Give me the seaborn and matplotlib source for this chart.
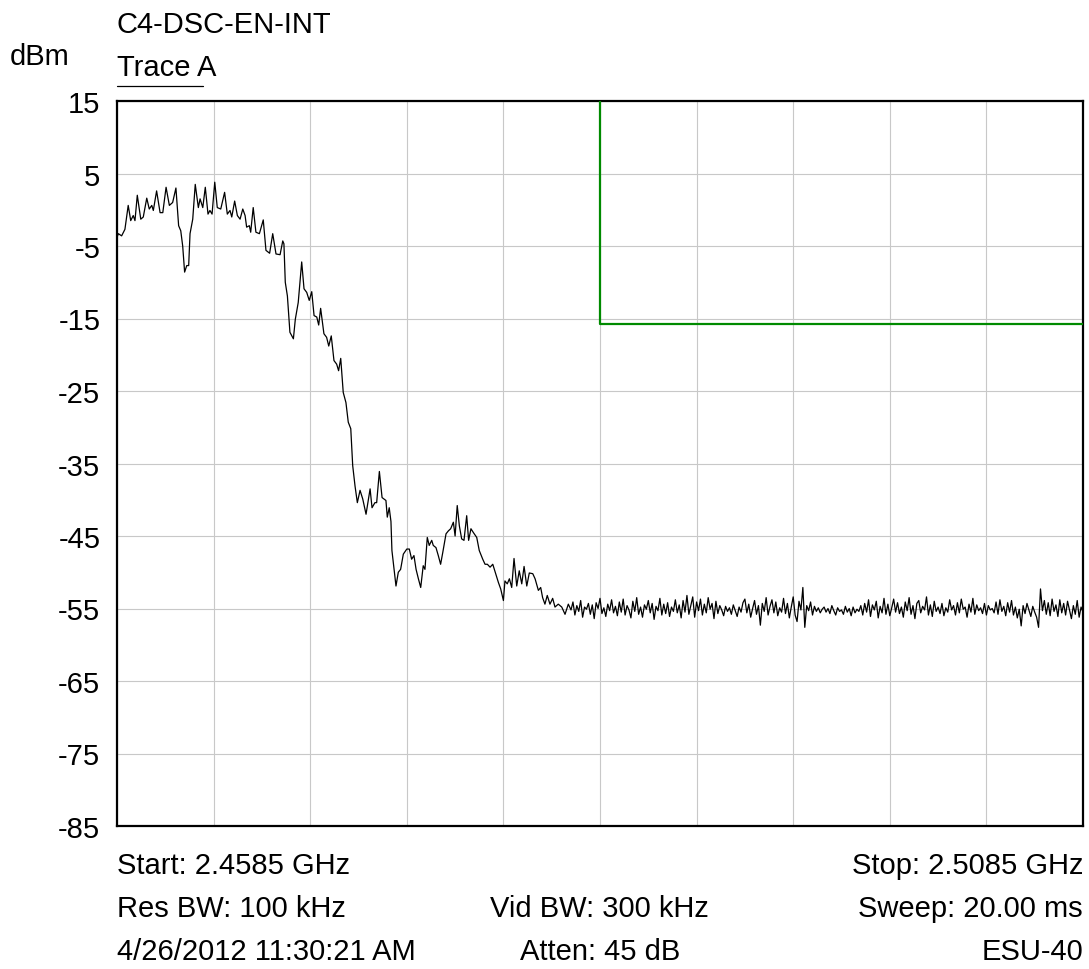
import numpy as np
import pandas as pd
import matplotlib
matplotlib.use("Agg")
import matplotlib.pyplot as plt
from matplotlib.lines import Line2D
import seaborn as sns

# ---------------- data ----------------
start_ghz = 2.4585
stop_ghz = 2.5085

# signal part of Trace A: offset from start (MHz) and level (dBm)
sig_offset_mhz = [
    0.00, 0.07, 0.24, 0.41, 0.58, 0.71, 0.84, 0.93, 1.05, 1.23, 1.36, 1.54, 1.67, 1.80, 1.88,
    2.05, 2.23, 2.37, 2.54, 2.71, 2.88, 3.05, 3.19, 3.30, 3.40, 3.50, 3.61, 3.71, 3.78, 3.92,
    4.05, 4.21, 4.30, 4.44, 4.57, 4.71, 4.81, 4.92, 5.06, 5.19, 5.37, 5.57, 5.71, 5.85, 5.94,
    6.09, 6.23, 6.37, 6.51, 6.63, 6.71, 6.85, 6.92, 7.05, 7.19, 7.37, 7.57, 7.71, 7.90, 8.06,
    8.23, 8.44, 8.58, 8.64, 8.71, 8.82, 8.95, 9.13, 9.23, 9.38, 9.56, 9.68, 9.82, 9.95, 10.08,
    10.20, 10.34, 10.44, 10.54, 10.71, 10.85, 10.96, 11.09, 11.23, 11.37, 11.47, 11.58, 11.71,
    11.85, 11.97, 12.10, 12.20, 12.32, 12.44, 12.58, 12.72, 12.89, 13.10, 13.20, 13.35, 13.44,
    13.58, 13.72, 13.92, 13.99, 14.09, 14.18, 14.23, 14.34, 14.44, 14.56, 14.68, 14.82, 15.00,
    15.13, 15.25, 15.37, 15.48, 15.60, 15.72, 15.85, 15.94, 16.06, 16.16, 16.29, 16.37, 16.51,
    16.63, 16.75, 16.86, 17.03, 17.15, 17.27, 17.41, 17.50, 17.61, 17.72, 17.84, 17.96, 18.10,
    18.20, 18.32, 18.44, 18.62, 18.75, 18.93, 19.05, 19.17, 19.31, 19.45, 19.58, 19.74, 19.86,
    20.00, 20.08, 20.20, 20.31, 20.43, 20.55, 20.69, 20.82, 20.95, 21.07, 21.21, 21.34, 21.52,
    21.64, 21.81, 21.93, 22.03, 22.15, 22.27, 22.41, 22.55, 22.67, 22.84, 23.02, 23.19, 23.36,
]
sig_level_dbm = [
    -3.8, -3.3, -3.6, -2.7, 0.6, -1.5, -0.8, -1.5, 2.0, -1.3, -1.0, 1.6, 0.1, 0.6, -0.1,
    2.6, -0.4, -0.4, 3.1, 0.6, 1.0, 3.0, -2.2, -2.9, -5.0, -8.6, -7.7, -7.7, -3.3, -1.3,
    3.5, 0.3, 1.5, 0.3, 3.1, -0.6, -0.1, -0.6, 3.8, 0.3, 0.1, 2.4, -0.6, -0.1, -1.0,
    1.2, -0.8, -1.3, 0.1, -0.8, -2.4, -2.2, -3.1, 0.3, -3.1, -3.3, -1.4, -5.6, -6.0, -3.3,
    -6.1, -6.2, -4.3, -4.7, -10.0, -11.9, -16.9, -17.8, -15.1, -12.8, -7.2, -10.9, -11.4, -12.5, -11.3,
    -14.6, -14.8, -15.9, -13.6, -17.1, -17.6, -18.8, -17.4, -20.8, -21.3, -22.2, -20.5, -25.2,
    -26.6, -29.3, -30.2, -35.3, -38.1, -40.4, -38.7, -39.9, -42.0, -38.5, -41.1, -40.4, -40.4,
    -36.1, -39.7, -40.1, -42.4, -41.1, -43.0, -47.0, -49.6, -51.9, -50.0, -49.6, -47.5, -46.8,
    -46.8, -48.2, -47.7, -49.6, -50.9, -52.1, -49.1, -49.6, -45.2, -46.3, -45.6, -46.3, -46.6,
    -47.7, -48.9, -47.3, -44.7, -44.3, -44.0, -43.1, -45.0, -40.8, -43.6, -45.4, -45.6, -42.2,
    -45.6, -44.0, -44.5, -45.2, -47.0, -48.2, -48.9, -48.9, -49.3, -48.9, -50.0, -51.4, -52.3,
    -53.9, -51.2, -51.6, -50.9, -52.1, -48.1, -51.9, -49.8, -51.6, -49.2, -51.9, -50.1, -50.2,
    -50.9, -52.5, -52.1, -53.5, -54.4, -53.2, -54.4, -53.6, -54.8, -54.4, -54.8, -55.8, -54.4,
]

# noise-floor part of Trace A: 0.1 MHz steps from 23.5 MHz to 50.0 MHz offset
noise_start_mhz = 23.5
noise_step_mhz = 0.1
noise_level_dbm = [
    -55.2, -54.1, -55.9, -54.6, -55.4, -53.9, -56.2, -54.8, -55.1, -54.3,
    -55.8, -54.5, -56.4, -54.2, -55.0, -53.6, -55.7, -54.9, -56.1, -54.4,
    -55.3, -53.8, -55.6, -54.7, -56.0, -54.1, -55.5, -53.7, -55.9, -54.6,
    -55.2, -56.3, -54.0, -55.4, -53.5, -55.8, -54.8, -56.2, -54.5, -55.1,
    -53.9, -55.6, -54.3, -56.5, -54.7, -55.3, -53.6, -55.9, -54.4, -55.7,
    -54.2, -56.1, -54.8, -55.4, -53.8, -55.6, -54.5, -56.3, -53.9, -55.5,
    -53.2, -55.8, -54.6, -53.4, -56.2, -54.1, -55.3, -53.7, -55.9, -54.4,
    -55.6, -53.5, -55.1, -54.3, -56.4, -54.0, -55.7, -54.6, -55.2, -56.0,
    -54.7, -55.4, -54.9, -55.8, -54.5, -55.3, -56.1, -54.8, -55.5, -54.2,
    -53.7, -55.6, -54.4, -56.2, -55.0, -53.9, -55.8, -54.6, -57.3, -54.3,
    -55.4, -53.5, -55.9, -54.7, -53.8, -55.6, -54.1, -56.0, -54.9, -55.5,
    -53.6, -55.7, -54.3, -56.3, -54.8, -53.4, -55.9, -56.8, -54.0, -55.2,
    -52.1, -57.6, -54.6, -55.3, -54.1, -55.9, -54.7, -55.4, -54.9, -55.6,
    -55.1, -54.8, -55.5, -55.0, -55.7, -54.6, -55.3, -55.9, -54.9, -55.4,
    -55.2, -55.8, -54.7, -55.5, -55.0, -56.0, -54.8, -55.6, -55.1, -55.4,
    -54.6, -55.9, -54.3, -55.5, -53.8, -56.1, -54.5, -55.2, -54.0, -56.3,
    -54.7, -55.6, -53.6, -55.8, -54.4, -56.0, -54.9, -53.7, -55.5, -54.2,
    -55.7, -54.8, -56.2, -54.1, -55.3, -53.5, -55.8, -54.6, -56.4, -54.3,
    -53.9, -55.6, -54.7, -55.2, -53.4, -55.9, -54.5, -56.1, -54.0, -55.4,
    -54.8, -55.7, -54.3, -56.0, -54.9, -55.5, -53.8, -55.2, -54.6, -55.9,
    -54.2, -55.6, -53.7, -55.1, -54.8, -56.2, -54.4, -55.5, -53.6, -55.8,
    -54.5, -55.3, -54.9, -55.7, -54.3, -55.9, -54.6, -55.2, -55.0, -55.6,
    -54.1, -55.8, -53.8, -55.4, -54.7, -56.0, -54.2, -55.5, -53.9, -55.9,
    -54.8, -56.3, -55.1, -57.4, -54.6, -55.7, -54.3, -55.2, -56.1, -54.7,
    -55.5, -56.2, -57.6, -52.3, -55.3, -53.9, -55.8, -54.2, -56.0, -53.7,
    -55.4, -54.5, -56.1, -53.8, -55.6, -54.3, -55.9, -54.0, -55.2, -56.4,
    -54.6, -55.8, -53.9, -56.2, -54.8, -55.5,
]

# limit line (green)
limit_freq_ghz = [2.4835, 2.4835, 2.5085]
limit_level_dbm = [15.0, -15.8, -15.8]

y_ticks = [15, 5, -5, -15, -25, -35, -45, -55, -65, -75, -85]

# ---------------- build frames ----------------
noise_offset_mhz = noise_start_mhz + noise_step_mhz * np.arange(len(noise_level_dbm))
offsets = np.concatenate([np.array(sig_offset_mhz), noise_offset_mhz])
levels = np.concatenate([np.array(sig_level_dbm), np.array(noise_level_dbm)])
trace = pd.DataFrame({"freq": start_ghz + offsets / 1000.0, "level": levels})
limit = pd.DataFrame({"freq": limit_freq_ghz, "level": limit_level_dbm})

# ---------------- plot ----------------
sns.set_theme(style="white")
plt.rcParams["font.family"] = ["Liberation Sans", "DejaVu Sans"]

FS = 21
W, H = 1089, 970
fig = plt.figure(figsize=(W / 100, H / 100), dpi=100)
ax = fig.add_axes([117 / W, 1 - 827 / H, 966 / W, 725 / H])

sns.lineplot(data=trace, x="freq", y="level", ax=ax, color="black",
             linewidth=0.9, estimator=None, sort=False, zorder=3)
sns.lineplot(data=limit, x="freq", y="level", ax=ax, color="#008a00",
             linewidth=1.6, estimator=None, sort=False, zorder=4)

ax.set_xlim(start_ghz, stop_ghz)
ax.set_ylim(-85, 15)
ax.set_xticks(np.linspace(start_ghz, stop_ghz, 11))
ax.set_xticklabels([])
ax.set_yticks(y_ticks)
ax.set_yticklabels([str(t) for t in y_ticks])
ax.tick_params(axis="both", length=0, labelsize=FS, colors="black")
ax.tick_params(axis="y", pad=12)
ax.grid(True, color="#c8c8c8", linewidth=0.8)
ax.set_axisbelow(True)
for s in ax.spines.values():
    s.set_visible(True)
    s.set_color("black")
    s.set_linewidth(1.6)
ax.set_xlabel("")
ax.set_ylabel("")

def ftext(x, y, s, ha="left"):
    fig.text(x / W, 1 - y / H, s, ha=ha, va="baseline", fontsize=FS, color="black")

ftext(117, 33, "C4-DSC-EN-INT")
ftext(10, 65, "dBm")
ftext(117, 76, "Trace A")
fig.add_artist(Line2D([117 / W, 203 / W], [1 - 87 / H, 1 - 87 / H],
                      transform=fig.transFigure, color="black", linewidth=0.9))

ftext(117, 874, "Start: 2.4585 GHz")
ftext(1083, 874, "Stop: 2.5085 GHz", ha="right")
ftext(117, 917, "Res BW: 100 kHz")
ftext(599, 917, "Vid BW: 300 kHz", ha="center")
ftext(1083, 917, "Sweep: 20.00 ms", ha="right")
ftext(117, 960, "4/26/2012 11:30:21 AM")
ftext(600, 960, "Atten: 45 dB", ha="center")
ftext(1083, 960, "ESU-40", ha="right")

fig.savefig("out.png", dpi=100)
